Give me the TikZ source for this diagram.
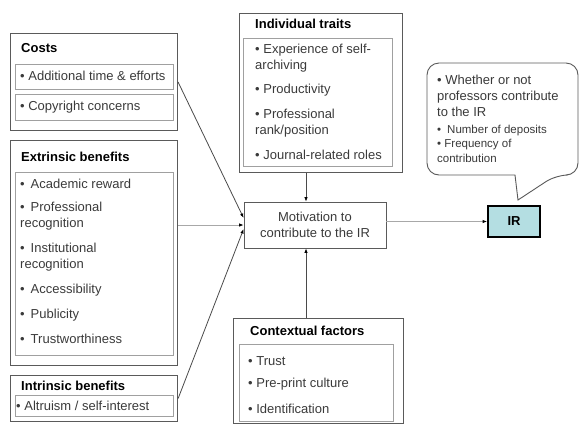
\documentclass[tikz,border=0pt]{standalone}
\usepackage{fontspec}
\setmainfont{Liberation Sans}
\usetikzlibrary{arrows.meta}
\definecolor{irfill}{HTML}{B4DEE2}
\definecolor{linegray}{HTML}{4A4A4A}
\definecolor{lightline}{HTML}{A8A8A8}
\definecolor{boxgray}{HTML}{5A5A5A}
\definecolor{innergray}{HTML}{A0A0A0}
\definecolor{txtgray}{HTML}{3A3A3A}
\begin{document}
\begin{tikzpicture}[x=1pt, y=-1pt,
	outerbox/.style={draw=boxgray, line width=1.1pt, anchor=north west, inner sep=0pt},
	innerbox/.style={draw=innergray, line width=0.8pt, anchor=north west, inner sep=0pt},
	boxtitle/.style={anchor=west, inner sep=0pt, font=\fontsize{13}{16}\selectfont\bfseries},
	item/.style={anchor=west, inner sep=0pt, align=left, text=txtgray, font=\fontsize{13}{16}\selectfont},
	subitem/.style={item, font=\fontsize{11.5}{14.5}\selectfont},
	conn/.style={draw=linegray, line width=0.8pt, -{Latex[length=4.5pt,width=3.5pt,color=black]}}]
	
	\useasboundingbox (0,0) rectangle (579,424);
	
	% costs
	\node [outerbox, minimum width=167pt, minimum height=97pt] (costs) at (10,33) {};
	\node [boxtitle] (coststitle) at (21,48) {Costs};
	\node [innerbox, minimum width=158pt, minimum height=25pt] (costsinA) at (15,64) {};
	\node [innerbox, minimum width=158pt, minimum height=26pt] (costsinB) at (15,94) {};
	\node [item] (time) at (20,76) {\textbullet\ Additional time \& efforts};
	\node [item] (copyright) at (20,107) {\textbullet\ Copyright concerns};
	
	% extrinsic benefits
	\node [outerbox, minimum width=167pt, minimum height=225pt] (extrinsic) at (10,140) {};
	\node [boxtitle] (extrtitle) at (21,157) {Extrinsic benefits};
	\node [innerbox, minimum width=158pt, minimum height=183pt] (extrin) at (15,172) {};
	\node [item] (reward) at (20,184) {\textbullet\hspace{6pt}Academic reward};
	\node [item] (profrec) at (20,216) {\textbullet\hspace{6pt}Professional\\recognition};
	\node [item] (instrec) at (20,257) {\textbullet\hspace{6pt}Institutional\\recognition};
	\node [item] (access) at (20,290) {\textbullet\hspace{6pt}Accessibility};
	\node [item] (publicity) at (20,315) {\textbullet\hspace{6pt}Publicity};
	\node [item] (trust) at (20,339) {\textbullet\hspace{6pt}Trustworthiness};
	
	% intrinsic benefits
	\node [outerbox, minimum width=167pt, minimum height=46pt] (intrinsic) at (10,375) {};
	\node [boxtitle] (intrtitle) at (21,386) {Intrinsic benefits};
	\node [innerbox, minimum width=158pt, minimum height=21pt] (intrin) at (15,395) {};
	\node [item] (altruism) at (16,406) {\textbullet\ Altruism / self-interest};
	
	% individual traits
	\node [outerbox, minimum width=163pt, minimum height=159pt] (traits) at (239,13) {};
	\node [boxtitle] (traitstitle) at (255,24) {Individual traits};
	\node [innerbox, minimum width=149pt, minimum height=128pt] (traitsin) at (243,38) {};
	\node [item] (experience) at (255,58) {\textbullet\ Experience of self-\\archiving};
	\node [item] (productivity) at (255,90) {\textbullet\ Productivity};
	\node [item] (rank) at (255,123) {\textbullet\ Professional\\rank/position};
	\node [item] (journal) at (255,155) {\textbullet\ Journal-related roles};
	
	% motivation
	\node [draw=boxgray, line width=0.8pt, minimum width=142pt, minimum height=46pt, align=center,
		text=txtgray, font=\fontsize{13}{16}\selectfont] (motiv) at (315,225) {Motivation to\\contribute to the IR};
	
	% contextual factors
	\node [outerbox, minimum width=170pt, minimum height=105pt] (context) at (233,318) {};
	\node [boxtitle] (contexttitle) at (250,331) {Contextual factors};
	\node [innerbox, minimum width=154pt, minimum height=77pt] (contextin) at (239,344) {};
	\node [item] (trustf) at (248,361) {\textbullet\ Trust};
	\node [item] (preprint) at (248,384) {\textbullet\ Pre-print culture};
	\node [item] (ident) at (248,409) {\textbullet\ Identification};
	
	% IR
	\node [draw=black, line width=1.8pt, fill=irfill, minimum width=52pt, minimum height=31pt,
		font=\fontsize{13}{16}\selectfont\bfseries] (ir) at (514,221.5) {IR};
	
	% callout
	\draw [draw=boxgray, line width=0.9pt, fill=white] (515,175) {[rounded corners=12pt] -- (427,175) -- (427,63) -- (578,63) -- (578,175) -- (556,175)} -- (518,200) -- cycle;
	\node [item] (bubblemain) at (437,96) {\textbullet\ Whether or not\\professors contribute\\to the IR};
	\node [subitem] (bubblesub) at (437,143.5) {\textbullet\hspace{6pt}Number of deposits\\\textbullet\ Frequency of\\contribution};
	
	% arrows into motivation
	\coordinate (arrx) at (306,0);
	\draw [conn] (costs.east) -- ([yshift=7pt]motiv.west);
	\draw [conn, draw=lightline] (extrinsic.east |- motiv.west) -- (motiv.west);
	\draw [conn] (intrinsic.east) -- ([yshift=-4pt]motiv.west);
	\draw [conn] (traits.south -| arrx) -- (motiv.north -| arrx);
	\draw [conn] (context.north -| arrx) -- (motiv.south -| arrx);
	
	% motivation to IR
	\draw [conn, draw=lightline] (motiv.east |- ir.west) -- (ir.west);
	
\end{tikzpicture}
\end{document}
